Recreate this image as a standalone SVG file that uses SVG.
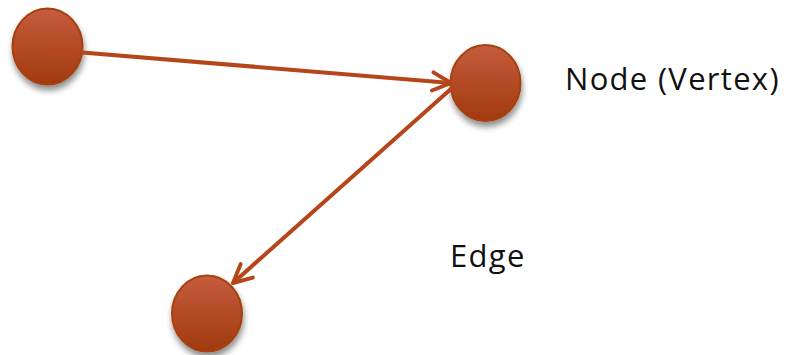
<svg xmlns="http://www.w3.org/2000/svg" width="790" height="355" viewBox="0 0 790 355">
  <defs>
    <linearGradient id="ballFill" x1="0" y1="0" x2="0" y2="1">
      <stop offset="0" stop-color="#c55c3e"/>
      <stop offset="1" stop-color="#a13a0e"/>
    </linearGradient>
    <filter id="dropShadow" x="-30%" y="-30%" width="160%" height="170%">
      <feGaussianBlur in="SourceAlpha" stdDeviation="3"/>
      <feOffset dx="1" dy="5" result="blur"/>
      <feComponentTransfer><feFuncA type="linear" slope="0.45"/></feComponentTransfer>
      <feMerge><feMergeNode/><feMergeNode in="SourceGraphic"/></feMerge>
    </filter>
    <marker id="openArrow" viewBox="0 0 12 12" refX="10.5" refY="6" markerWidth="6.5" markerHeight="6.5" markerUnits="strokeWidth" orient="auto">
      <path d="M2,1.8 L10.5,6 L2,10.2" fill="none" stroke="#b4461a" stroke-width="1.8" stroke-linecap="round" stroke-linejoin="round"/>
    </marker>
    <style>
      .node { fill: url(#ballFill); stroke: #a6400f; stroke-width: 2; filter: url(#dropShadow); }
      .edge { fill: none; stroke: #b4461a; stroke-width: 4; stroke-linecap: round; marker-end: url(#openArrow); }
      .label { font-family: "Open Sans", "Liberation Sans", sans-serif; font-size: 31px; letter-spacing: 1.3px; fill: #111; }
    </style>
  </defs>

  <g id="node-a"><ellipse class="node" cx="47.5" cy="46.5" rx="35" ry="38"/></g>
  <g id="node-b"><ellipse class="node" cx="485.5" cy="83" rx="35" ry="38"/></g>
  <g id="node-c"><ellipse class="node" cx="207" cy="313.5" rx="35" ry="38"/></g>

  <g id="connectors">
    <line class="edge" x1="52" y1="50" x2="451" y2="83"/>
    <line class="edge" x1="452" y1="88" x2="233" y2="283"/>
  </g>

  <g id="labels">
    <text class="label" x="565" y="90">Node (Vertex)</text>
    <text class="label" x="450" y="267">Edge</text>
  </g>
</svg>
